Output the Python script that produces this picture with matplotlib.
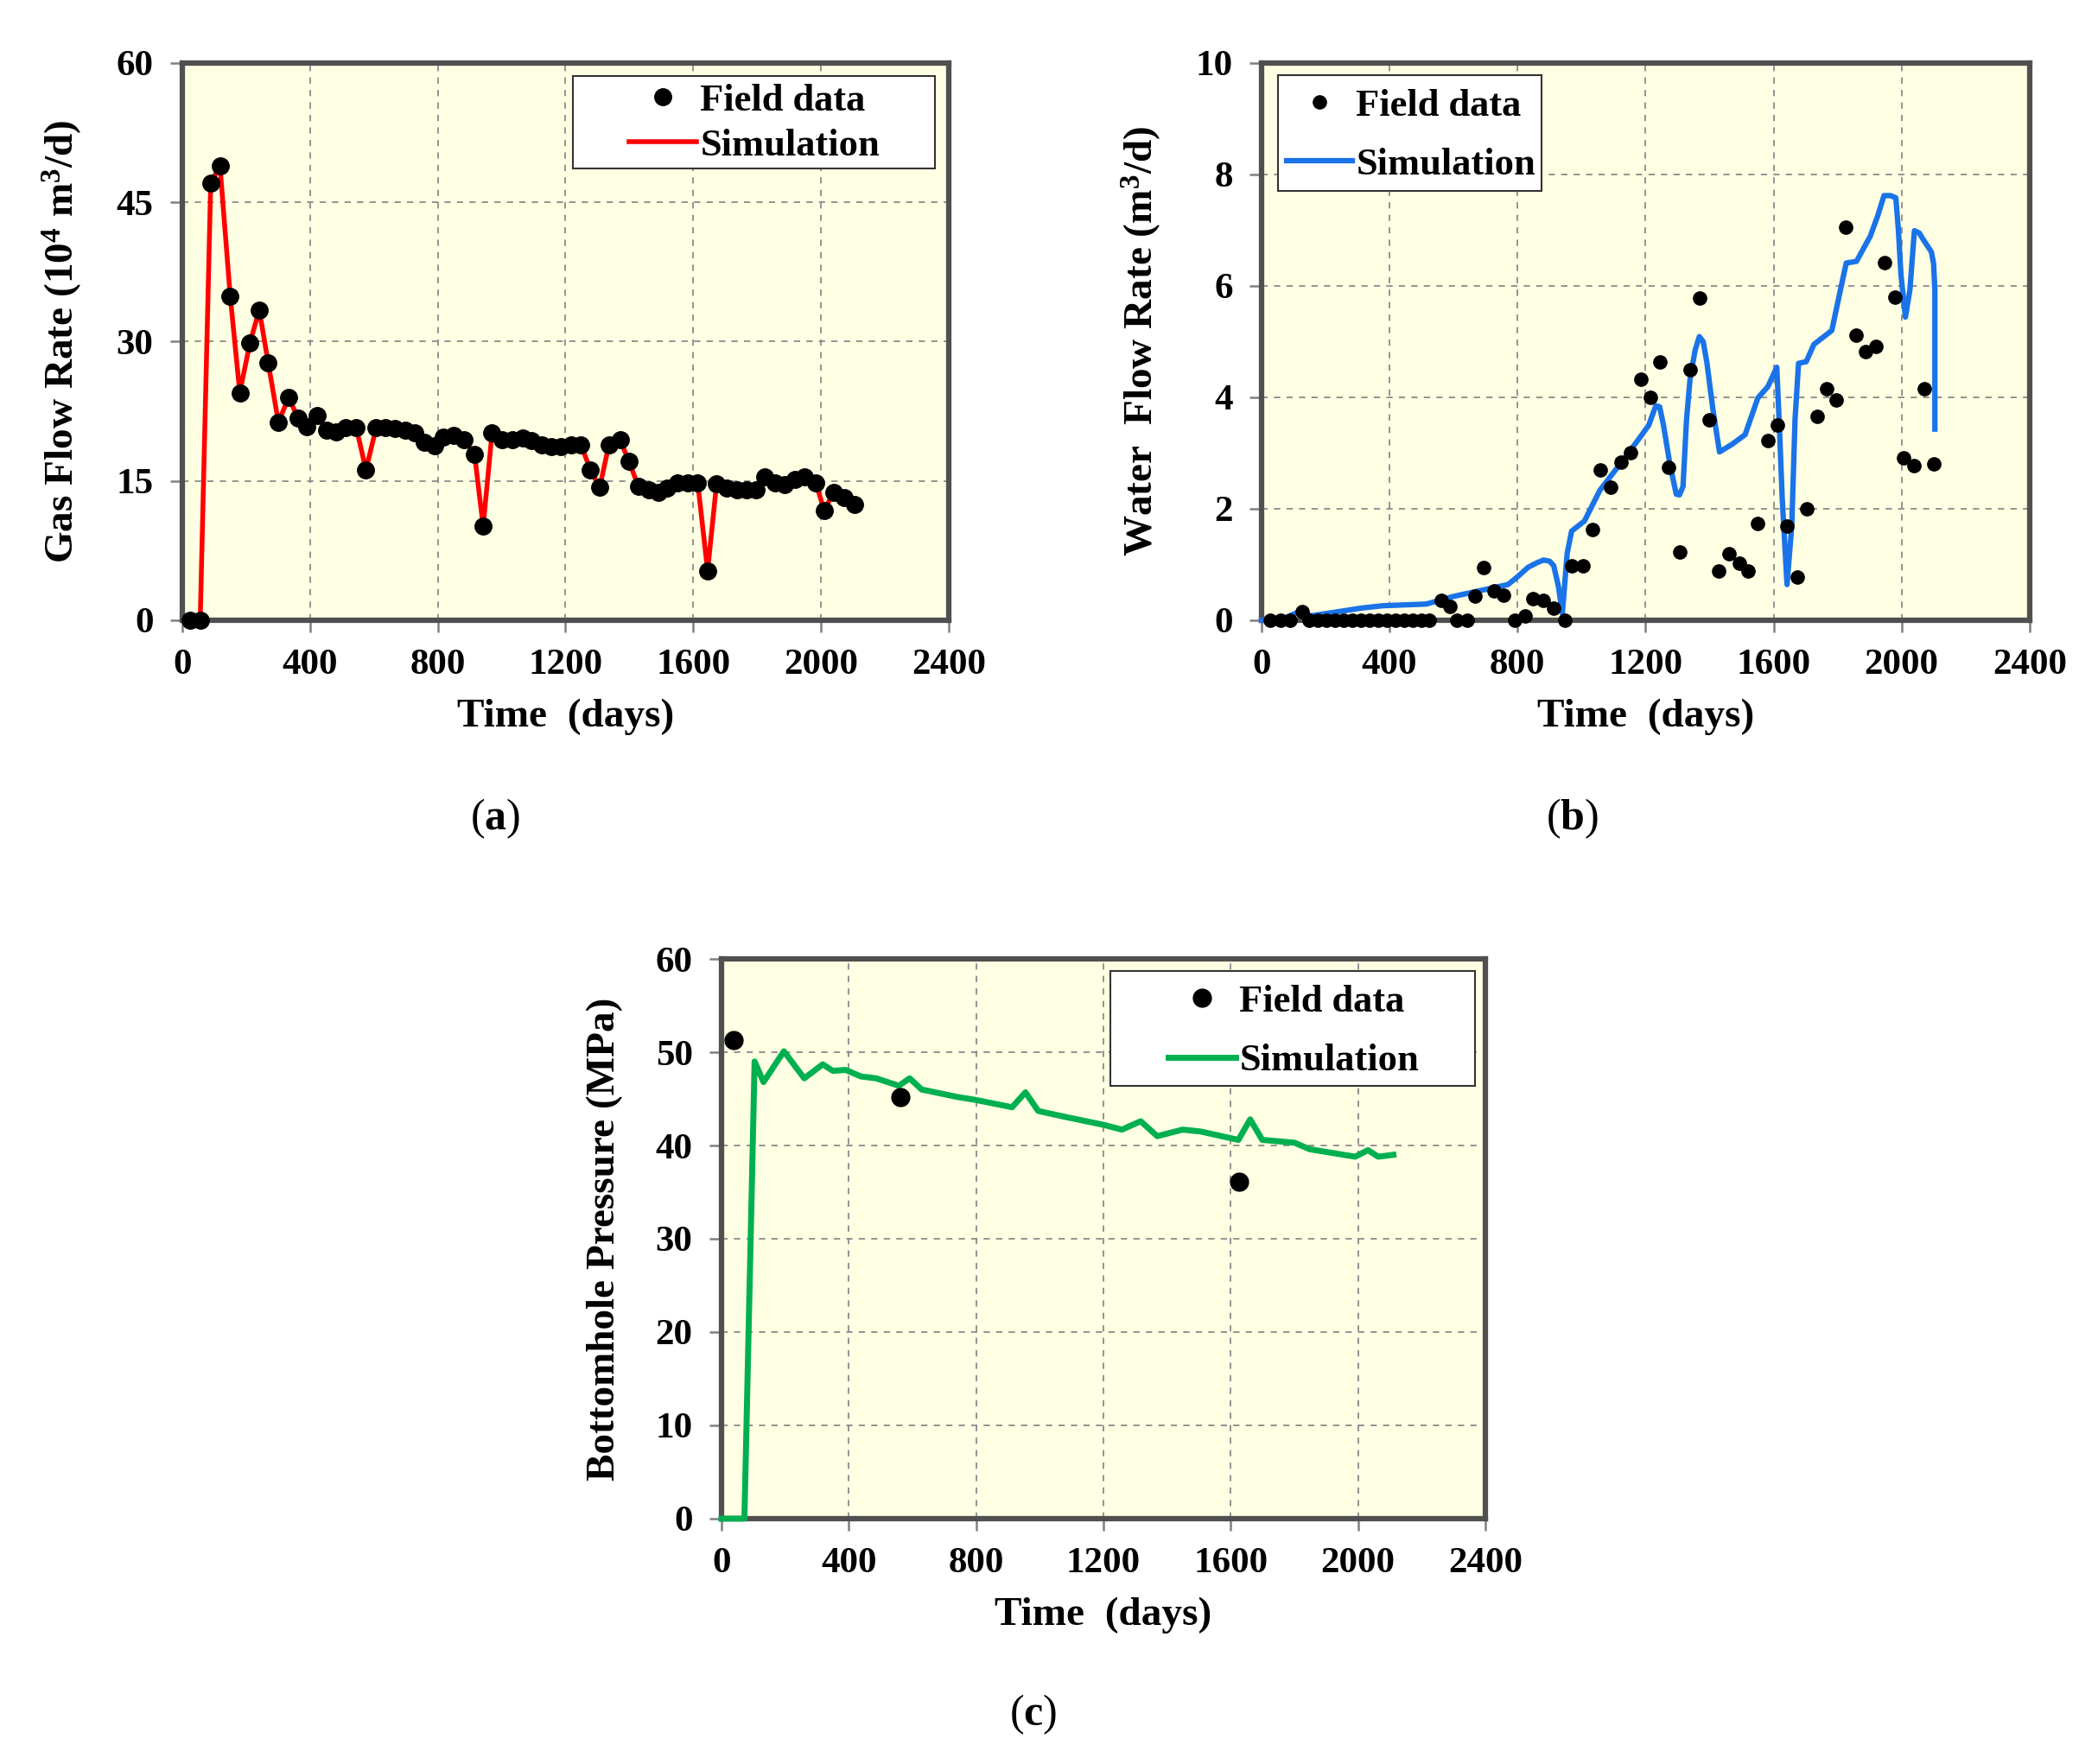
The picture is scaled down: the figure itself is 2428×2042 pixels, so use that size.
import matplotlib
matplotlib.use("Agg")
import matplotlib.pyplot as plt
from matplotlib.patches import Rectangle

plt.rcParams["font.family"] = ["Liberation Serif", "DejaVu Serif"]
plt.rcParams["mathtext.default"] = "regular"
plt.rcParams["mathtext.fontset"] = "custom"
plt.rcParams["mathtext.rm"] = "Liberation Serif"
plt.rcParams["mathtext.bf"] = "Liberation Serif:bold"

# (a) gas flow rate, field data (simulation follows the same points)
gas_days = [24, 56, 89, 118, 150, 180, 212, 241, 269, 301, 333, 362, 389, 422,
            451, 481, 512, 545, 575, 607, 636, 666, 697, 727, 757, 789, 818, 849,
            881, 915, 942, 970, 1001, 1033, 1065, 1093, 1125, 1156, 1186, 1218,
            1248, 1278, 1307, 1336, 1371, 1399, 1428, 1460, 1490, 1519, 1550,
            1582, 1614, 1645, 1673, 1705, 1737, 1767, 1798, 1825, 1855, 1887,
            1918, 1949, 1984, 2010, 2040, 2072, 2105]
gas_rate = [0, 0, 47.1, 48.9, 34.9, 24.5, 29.9, 33.4, 27.7, 21.3, 24.0, 21.8,
            20.8, 22.0, 20.5, 20.3, 20.7, 20.7, 16.2, 20.7, 20.7, 20.6, 20.5,
            20.2, 19.2, 18.8, 19.7, 19.9, 19.4, 17.9, 10.1, 20.2, 19.4, 19.4,
            19.6, 19.3, 18.9, 18.7, 18.7, 18.9, 18.9, 16.2, 14.3, 18.9, 19.4,
            17.1, 14.4, 14.0, 13.8, 14.2, 14.8, 14.8, 14.8, 5.3, 14.7, 14.2,
            14.0, 14.0, 14.0, 15.4, 14.8, 14.6, 15.2, 15.4, 14.8, 11.8, 13.8,
            13.2, 12.5]

# (b) water flow rate
water_days = [27, 59, 90, 127, 149, 176, 203, 230, 257, 284, 311, 338, 365, 392,
              419, 446, 473, 500, 525, 563, 590, 611, 643, 666, 695, 727, 757,
              792, 823, 849, 881, 913, 948, 969, 1004, 1033, 1058, 1092, 1124,
              1152, 1186, 1214, 1246, 1272, 1307, 1339, 1368, 1399, 1428, 1460,
              1492, 1520, 1551, 1582, 1611, 1642, 1675, 1705, 1737, 1766, 1795,
              1824, 1859, 1888, 1919, 1946, 1978, 2005, 2038, 2072, 2100]
water_rate = [0, 0, 0, 0.15, 0, 0, 0, 0, 0, 0, 0, 0, 0, 0, 0, 0, 0, 0, 0, 0.35,
              0.24, 0, 0, 0.43, 0.95, 0.53, 0.45, 0, 0.07, 0.39, 0.36, 0.22, 0,
              0.98, 0.98, 1.62, 2.69, 2.38, 2.83, 3.0, 4.33, 4.0, 4.64, 2.74,
              1.22, 4.5, 5.78, 3.6, 0.89, 1.19, 1.02, 0.89, 1.74, 3.23, 3.5,
              1.69, 0.77, 2.0, 3.66, 4.16, 3.95, 7.05, 5.11, 4.82, 4.92, 6.42,
              5.8, 2.92, 2.78, 4.15, 2.8]
water_sim_days = [0, 61, 116, 156, 236, 315, 379, 515, 602, 682, 770, 800, 833,
                  860, 881, 900, 913, 928, 940, 955, 969, 1009, 1057, 1112, 1176,
                  1210, 1232, 1244, 1256, 1276, 1296, 1306, 1317, 1328, 1339,
                  1355, 1368, 1380, 1392, 1410, 1431, 1471, 1511, 1551, 1582,
                  1610, 1618, 1627, 1642, 1657, 1667, 1678, 1702, 1726, 1782,
                  1806, 1827, 1859, 1902, 1925, 1945, 1965, 1982, 1990, 1998,
                  2012, 2026, 2040, 2055, 2069, 2093, 2100, 2104, 2104]
water_sim_rate = [0, 0.01, 0.15, 0.08, 0.15, 0.22, 0.26, 0.29, 0.43, 0.53,
                  0.64, 0.78, 0.95, 1.03, 1.08, 1.06, 0.98, 0.6, 0.12, 1.2,
                  1.60, 1.78, 2.33, 2.74, 3.23, 3.5, 3.85, 3.83, 3.5, 2.8, 2.26,
                  2.25, 2.40, 3.6, 4.33, 4.85, 5.09, 5.0, 4.61, 3.8, 3.02, 3.16,
                  3.33, 3.99, 4.19, 4.54, 3.5, 2.19, 0.64, 1.71, 3.6, 4.61, 4.64,
                  4.95, 5.2, 5.85, 6.41, 6.44, 6.89, 7.25, 7.62, 7.62, 7.58, 7.0,
                  6.2, 5.44, 5.93, 6.99, 6.95, 6.82, 6.61, 6.4, 5.92, 3.43]

# (c) bottomhole pressure
bhp_days = [37, 562, 1627]
bhp_field = [51.3, 45.2, 36.1]
bhp_sim_days = [0, 72, 104, 132, 196, 260, 318, 350, 390, 438, 486, 557, 591,
                629, 741, 796, 913, 955, 995, 1075, 1202, 1258, 1317, 1369, 1449,
                1505, 1624, 1661, 1699, 1800, 1848, 1919, 1991, 2031, 2063, 2111]
bhp_sim = [0, 0, 49.0, 46.8, 50.1, 47.2, 48.7, 48.0, 48.1, 47.4, 47.2, 46.4,
           47.2, 46.0, 45.2, 44.9, 44.1, 45.7, 43.7, 43.1, 42.2, 41.7, 42.6,
           41.0, 41.7, 41.5, 40.6, 42.8, 40.6, 40.3, 39.6, 39.2, 38.8, 39.5,
           38.8, 39.0]

BG = "#FFFFE3"


def style(ax, ymax, ystep, ylabel):
    ax.set_facecolor(BG)
    ax.set_xlim(0, 2400)
    ax.set_ylim(0, ymax)
    ax.set_xticks(range(0, 2401, 400))
    ax.set_yticks([ystep * i for i in range(int(round(ymax / ystep)) + 1)])
    ax.grid(True, color="#8a8a8a", linestyle=(0, (4, 4)), linewidth=1.3)
    ax.set_axisbelow(True)
    for s in ax.spines.values():
        s.set_color("#505050")
        s.set_linewidth(4.5)
    ax.tick_params(direction="out", length=10, width=1.8, color="#808080",
                   labelsize=31, pad=14)
    for lab in ax.get_xticklabels() + ax.get_yticklabels():
        lab.set_fontweight("bold")
    ax.set_xlabel("Time  (days)", fontsize=34, fontweight="bold", labelpad=14)
    ax.set_ylabel(ylabel, fontsize=34, fontweight="bold", labelpad=27)


def legend(ax, box, anchor, spacing, hlen):
    # frame drawn separately to get the wide side margins of the original
    x0, y0, x1, y1 = box
    ax.add_patch(Rectangle((x0, y0), x1 - x0, y1 - y0, transform=ax.transAxes,
                           facecolor="white", edgecolor="#333333",
                           linewidth=1.5, zorder=5))
    leg = ax.legend(loc="upper left", bbox_to_anchor=anchor, frameon=False,
                    borderpad=0, handlelength=hlen, handletextpad=0.1,
                    labelspacing=spacing, borderaxespad=0,
                    prop={"size": 32, "weight": "bold"})
    leg.set_zorder(6)


fig = plt.figure(figsize=(24.28, 20.42), dpi=100)

ax_a = fig.add_axes([0.0869, 0.6484, 0.3653, 0.3159])
ax_b = fig.add_axes([0.6013, 0.6484, 0.3661, 0.3159])
ax_c = fig.add_axes([0.3439, 0.1391, 0.3641, 0.3173])

# (a)
style(ax_a, 60, 15, "Gas Flow Rate (10$^4$ m$^3$/d)")
ax_a.plot(gas_days, gas_rate, "o", color="black", markersize=14,
          label="Field data", zorder=4, clip_on=False)
ax_a.plot(gas_days, gas_rate, "-", color="#FF0000", linewidth=4,
          label="Simulation", zorder=3, clip_on=False)
legend(ax_a, (0.5096, 0.8106, 0.9825, 0.976), (0.583, 0.963), 0.27, 1.75)

# (b)
style(ax_b, 10, 2, "Water  Flow Rate (m$^3$/d)")
ax_b.plot(water_days, water_rate, "o", color="black", markersize=11,
          label="Field data", zorder=4, clip_on=False)
ax_b.plot(water_sim_days, water_sim_rate, "-", color="#1A73E8", linewidth=4.5,
          label="Simulation", zorder=3, clip_on=False)
legend(ax_b, (0.0209, 0.770, 0.364, 0.978), (0.033, 0.954), 0.63, 1.7)

# (c)
style(ax_c, 60, 10, "Bottomhole Pressure (MPa)")
ax_c.plot(bhp_days, bhp_field, "o", color="black", markersize=15,
          label="Field data", zorder=4, clip_on=False)
ax_c.plot(bhp_sim_days, bhp_sim, "-", color="#00B050", linewidth=5,
          label="Simulation", zorder=3, clip_on=False)
legend(ax_c, (0.5096, 0.773, 0.986, 0.978), (0.585, 0.954), 0.63, 1.75)

for (x, y, letter) in [(0.236, 0.536, "a"), (0.7494, 0.536, "b"), (0.4923, 0.028, "c")]:
    fig.text(x, y, "(" + r"$\mathbf{" + letter + "}$" + ")", ha="center",
             va="center", fontsize=36, fontweight="normal")

fig.savefig("out.png", dpi=100, facecolor="white")
